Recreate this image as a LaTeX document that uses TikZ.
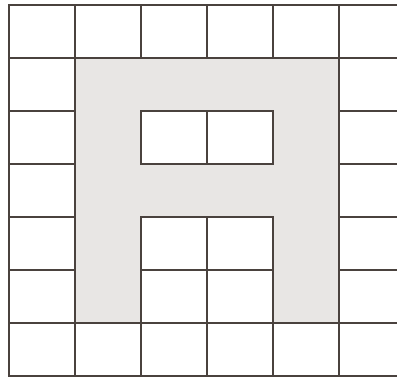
\documentclass[tikz,border=0pt]{standalone}
\definecolor{gridline}{HTML}{4A423E}
\definecolor{letterfill}{HTML}{E8E6E4}
\tikzset{gridstroke/.style={draw=gridline, line width=1.6pt, line cap=rect}}
\begin{document}
\begin{tikzpicture}[x=1.32cm, y=-1.06cm]
  \useasboundingbox (-0.136,-0.094) rectangle (5.879,7.038);
  \clip (-0.136,-0.094) rectangle (5.879,7.038);

  % Grid of squares
  \foreach \i in {0,...,5}
    \draw[gridstroke] (\i,0) -- (\i,7);
  \foreach \j in {0,...,7}
    \draw[gridstroke] (0,\j) -- (6.5,\j);

  % Shaded letter A
  \filldraw[gridstroke, fill=letterfill, even odd rule]
    (1,1) -- (5,1) -- (5,6) -- (4,6) -- (4,4) -- (2,4) -- (2,6) -- (1,6) -- cycle
    (2,2) rectangle (4,3);
  \draw[gridstroke] (3,2) -- (3,3);
\end{tikzpicture}
\end{document}
